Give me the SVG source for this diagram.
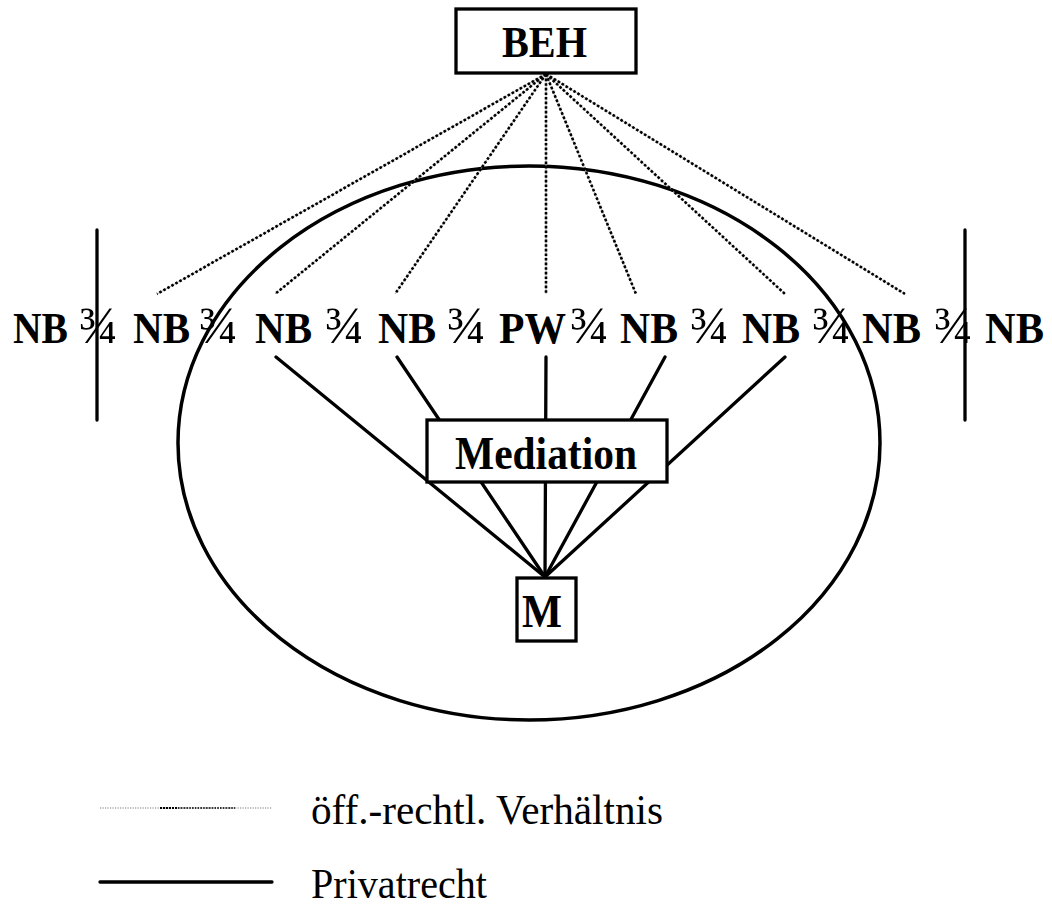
<svg xmlns="http://www.w3.org/2000/svg" width="1052" height="915" viewBox="0 0 1052 915">
<style>
.box{fill:#fff;stroke:#000;stroke-width:3.3}
.lbl{font-family:"Liberation Serif","Times New Roman",serif;font-weight:bold;font-size:44px;fill:#000}
.big{font-size:46px}
.sep{font-family:"Liberation Serif","Times New Roman",serif;font-size:52px;fill:#000}
.leg{font-family:"Liberation Serif","Times New Roman",serif;font-size:42px;fill:#000}
.dot{stroke:#000;stroke-width:2.6;stroke-dasharray:2.6 2;fill:none}
.dotbg{stroke:#999;stroke-width:0.8;fill:none}
.sol{stroke:#000;stroke-width:3.3;fill:none;stroke-linecap:round}
</style>
<ellipse cx="529" cy="443" rx="351" ry="277" fill="none" stroke="#000" stroke-width="3.5"/>
<line x1="97" y1="230" x2="97" y2="420" class="sol"/>
<line x1="965" y1="230" x2="965" y2="420" class="sol"/>
<g id="connectors">
  <g class="dotbg">
    <line x1="546" y1="74" x2="157" y2="294"/>
    <line x1="546" y1="74" x2="275" y2="294"/>
    <line x1="546" y1="74" x2="395" y2="294"/>
    <line x1="546" y1="74" x2="546" y2="294"/>
    <line x1="546" y1="74" x2="636" y2="294"/>
    <line x1="546" y1="74" x2="785" y2="294"/>
    <line x1="546" y1="74" x2="905" y2="294"/>
  </g>
  <g class="dot">
    <line x1="546" y1="74" x2="157" y2="294"/>
    <line x1="546" y1="74" x2="275" y2="294"/>
    <line x1="546" y1="74" x2="395" y2="294"/>
    <line x1="546" y1="74" x2="546" y2="294"/>
    <line x1="546" y1="74" x2="636" y2="294"/>
    <line x1="546" y1="74" x2="785" y2="294"/>
    <line x1="546" y1="74" x2="905" y2="294"/>
  </g>
  <g class="sol">
    <line x1="276" y1="357" x2="545" y2="577"/>
    <line x1="397" y1="357" x2="545" y2="577"/>
    <line x1="546" y1="357" x2="545" y2="577"/>
    <line x1="665" y1="357" x2="545" y2="577"/>
    <line x1="785" y1="357" x2="545" y2="577"/>
  </g>
</g>
<g id="BEH">
  <rect x="456" y="9" width="180" height="64" class="box"/>
  <text x="502" y="57" class="lbl" textLength="85" lengthAdjust="spacingAndGlyphs">BEH</text>
</g>
<g id="Mediation">
  <rect x="427" y="420" width="240" height="62" class="box"/>
  <text x="455" y="469" class="lbl big" textLength="182" lengthAdjust="spacingAndGlyphs">Mediation</text>
</g>
<g id="M">
  <rect x="517" y="578" width="59" height="63" class="box"/>
  <text x="522" y="627" class="lbl big" textLength="40" lengthAdjust="spacingAndGlyphs">M</text>
</g>
<g id="NB1"><text x="13" y="343" class="lbl" textLength="55" lengthAdjust="spacingAndGlyphs">NB</text></g>
<g id="NB2"><text x="133" y="343" class="lbl" textLength="57" lengthAdjust="spacingAndGlyphs">NB</text></g>
<g id="NB3"><text x="255" y="343" class="lbl" textLength="57" lengthAdjust="spacingAndGlyphs">NB</text></g>
<g id="NB4"><text x="378" y="343" class="lbl" textLength="58" lengthAdjust="spacingAndGlyphs">NB</text></g>
<g id="PW"><text x="499" y="343" class="lbl" textLength="67" lengthAdjust="spacingAndGlyphs">PW</text></g>
<g id="NB5"><text x="620" y="343" class="lbl" textLength="58" lengthAdjust="spacingAndGlyphs">NB</text></g>
<g id="NB6"><text x="742" y="343" class="lbl" textLength="58" lengthAdjust="spacingAndGlyphs">NB</text></g>
<g id="NB7"><text x="862" y="343" class="lbl" textLength="59" lengthAdjust="spacingAndGlyphs">NB</text></g>
<g id="NB8"><text x="985" y="343" class="lbl" textLength="59" lengthAdjust="spacingAndGlyphs">NB</text></g>
<g id="separators" class="sep">
  <text x="79" y="343">¾</text>
  <text x="199" y="343">¾</text>
  <text x="325" y="343">¾</text>
  <text x="447" y="343">¾</text>
  <text x="570" y="343">¾</text>
  <text x="690" y="343">¾</text>
  <text x="812" y="343">¾</text>
  <text x="934" y="343">¾</text>
</g>
<g id="legend">
  <line x1="100" y1="808" x2="272" y2="808" stroke="#777" stroke-width="1.2" stroke-dasharray="1.2 1.3"/>
  <line x1="160" y1="808" x2="178" y2="808" stroke="#000" stroke-width="2.2" stroke-dasharray="2 1"/>
  <line x1="178" y1="808" x2="235" y2="808" stroke="#000" stroke-width="1.6" stroke-dasharray="1.6 1.2"/>
  <text x="311" y="824" class="leg" textLength="352" lengthAdjust="spacingAndGlyphs">öff.-rechtl. Verhältnis</text>
  <line x1="100" y1="882" x2="272" y2="882" class="sol"/>
  <text x="311" y="898" class="leg" textLength="176" lengthAdjust="spacingAndGlyphs">Privatrecht</text>
</g>
</svg>
